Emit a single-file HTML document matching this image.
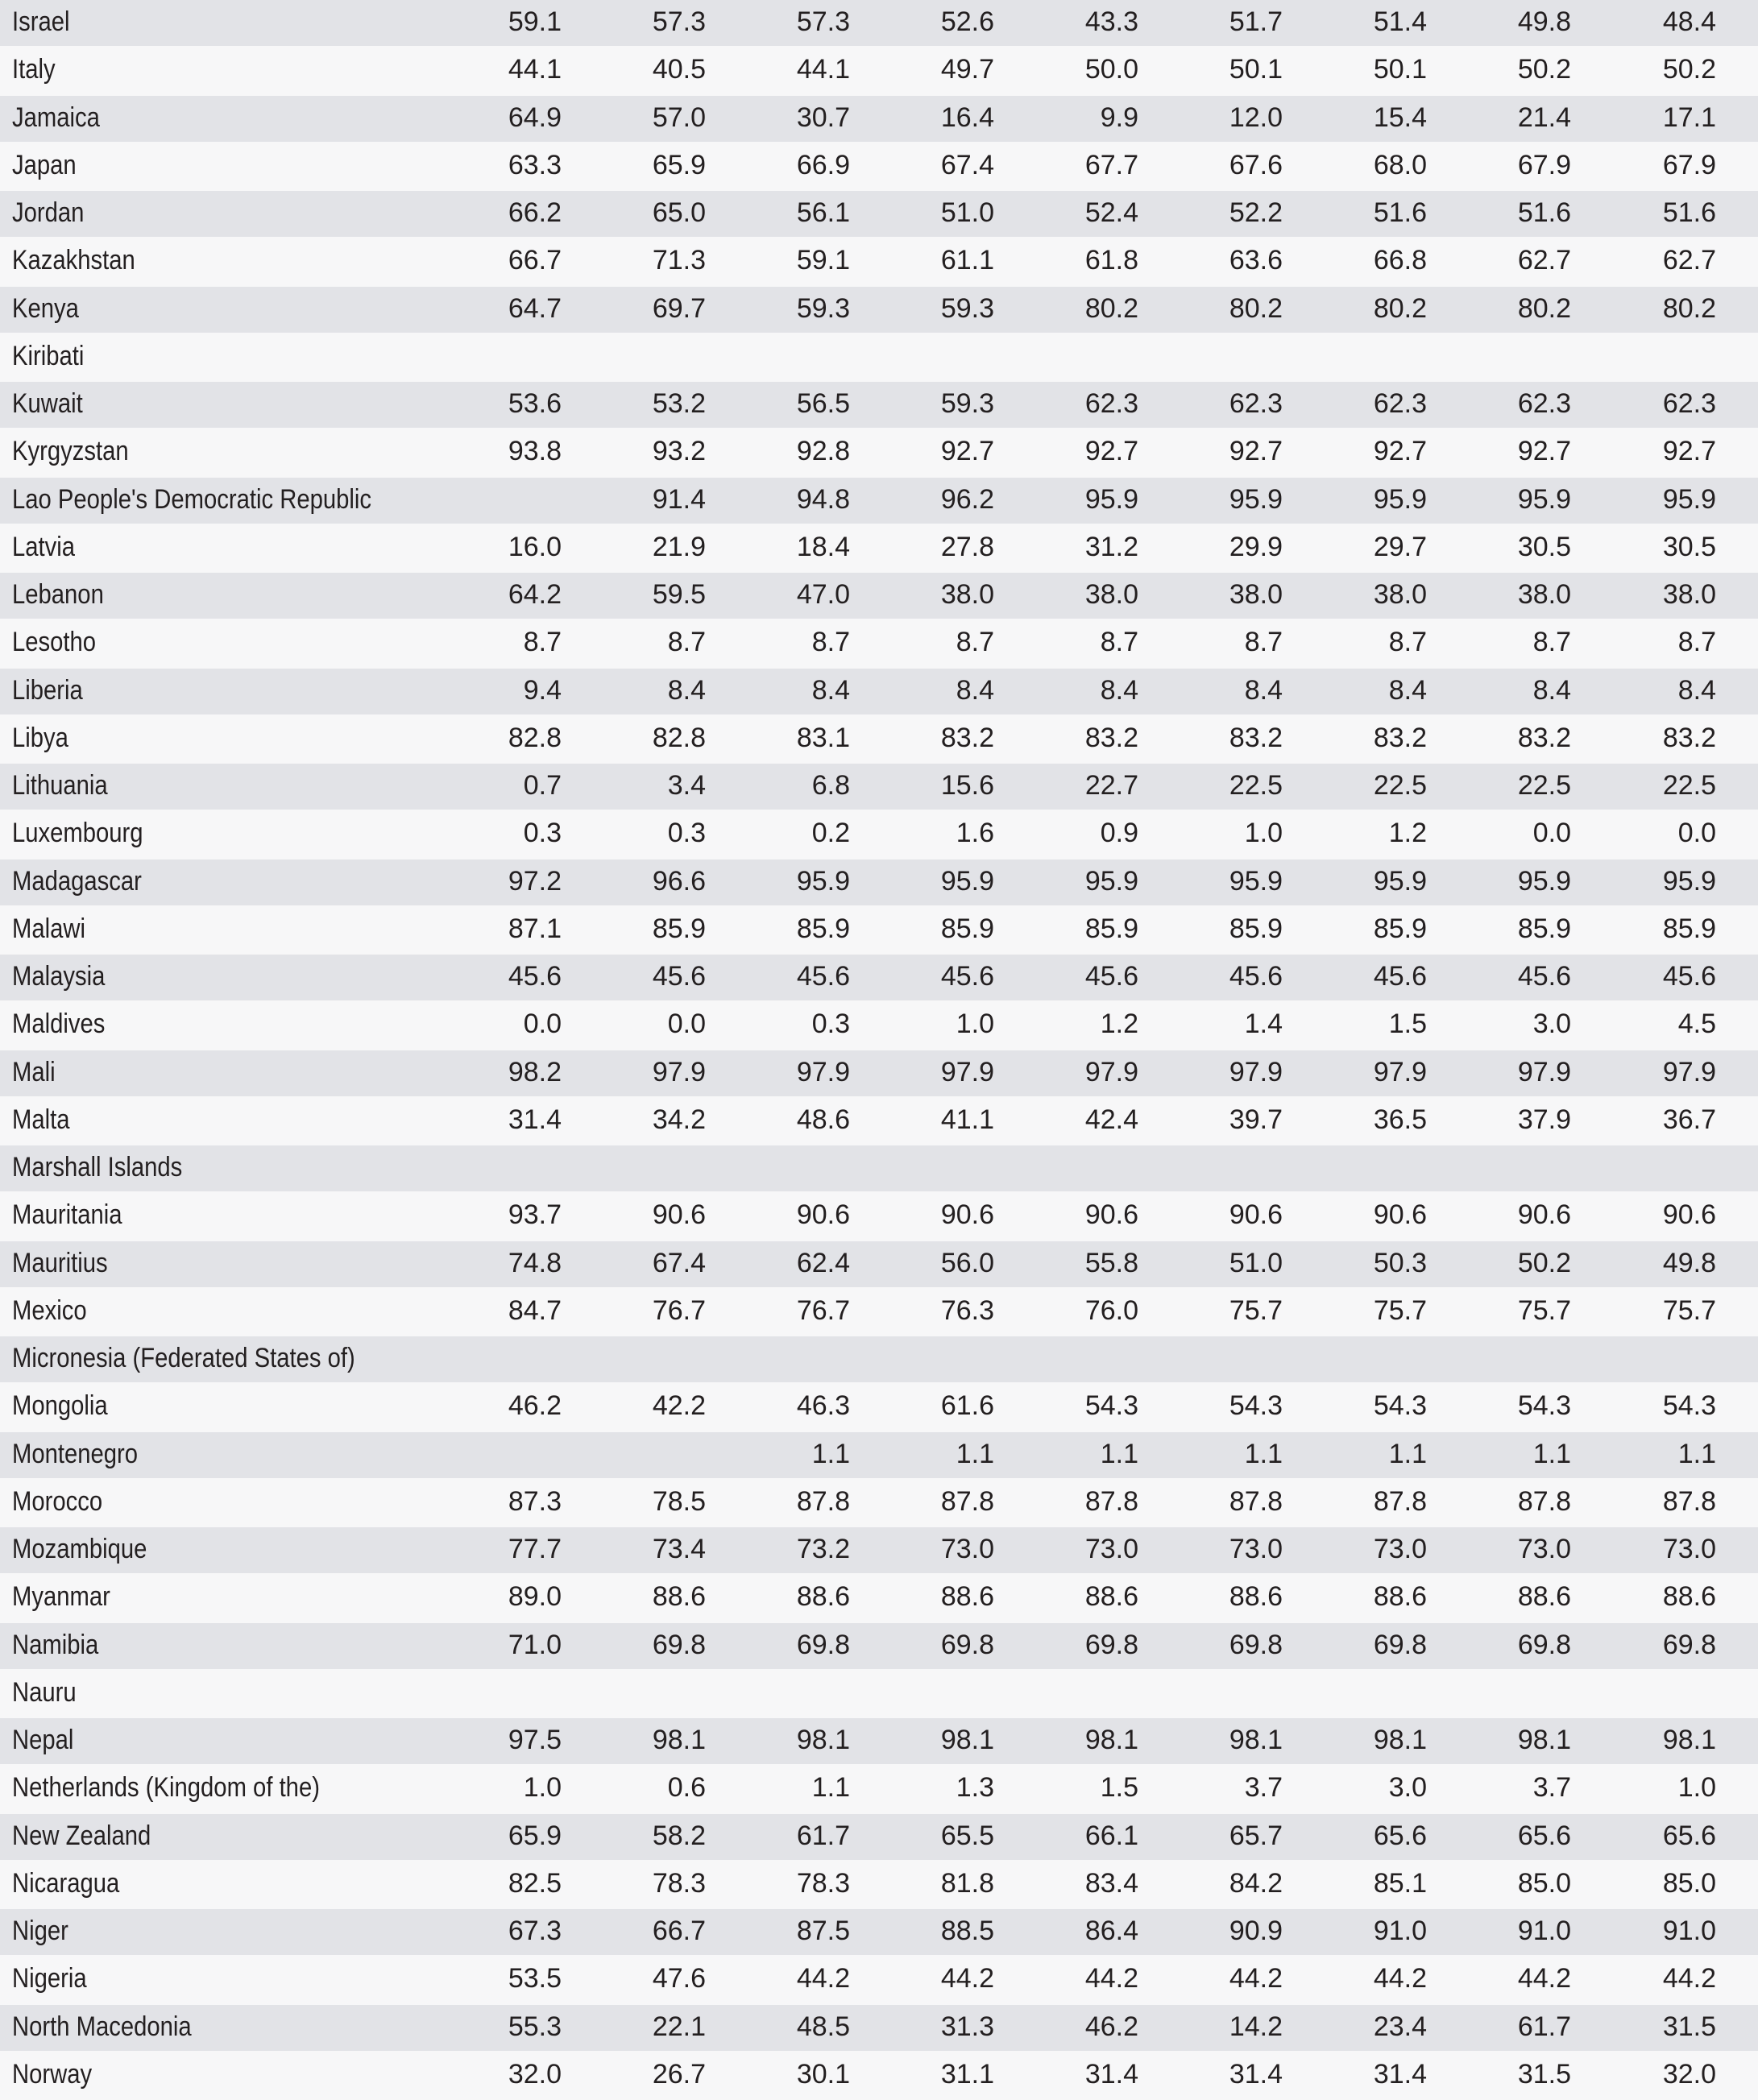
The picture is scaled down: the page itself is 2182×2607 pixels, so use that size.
<!DOCTYPE html>
<html><head><meta charset="utf-8"><style>
body{margin:0;width:2182px;height:2607px;background:#f7f7f8;overflow:hidden;font-family:"Liberation Sans",sans-serif;color:#231f20}
.r{position:absolute;left:0;width:2182px;height:57px}
.g{background:#e2e3e7}
.t{position:absolute;top:-2px;line-height:59px;font-size:34px;white-space:nowrap}
.n{left:15px;transform:scaleX(0.86);transform-origin:left center}
.v{text-align:right;width:170px}
</style></head><body>
<div id="c"></div>
<script>
const d=`Israel|59.1|57.3|57.3|52.6|43.3|51.7|51.4|49.8|48.4
Italy|44.1|40.5|44.1|49.7|50.0|50.1|50.1|50.2|50.2
Jamaica|64.9|57.0|30.7|16.4|9.9|12.0|15.4|21.4|17.1
Japan|63.3|65.9|66.9|67.4|67.7|67.6|68.0|67.9|67.9
Jordan|66.2|65.0|56.1|51.0|52.4|52.2|51.6|51.6|51.6
Kazakhstan|66.7|71.3|59.1|61.1|61.8|63.6|66.8|62.7|62.7
Kenya|64.7|69.7|59.3|59.3|80.2|80.2|80.2|80.2|80.2
Kiribati||||||||||
Kuwait|53.6|53.2|56.5|59.3|62.3|62.3|62.3|62.3|62.3
Kyrgyzstan|93.8|93.2|92.8|92.7|92.7|92.7|92.7|92.7|92.7
Lao People's Democratic Republic||91.4|94.8|96.2|95.9|95.9|95.9|95.9|95.9
Latvia|16.0|21.9|18.4|27.8|31.2|29.9|29.7|30.5|30.5
Lebanon|64.2|59.5|47.0|38.0|38.0|38.0|38.0|38.0|38.0
Lesotho|8.7|8.7|8.7|8.7|8.7|8.7|8.7|8.7|8.7
Liberia|9.4|8.4|8.4|8.4|8.4|8.4|8.4|8.4|8.4
Libya|82.8|82.8|83.1|83.2|83.2|83.2|83.2|83.2|83.2
Lithuania|0.7|3.4|6.8|15.6|22.7|22.5|22.5|22.5|22.5
Luxembourg|0.3|0.3|0.2|1.6|0.9|1.0|1.2|0.0|0.0
Madagascar|97.2|96.6|95.9|95.9|95.9|95.9|95.9|95.9|95.9
Malawi|87.1|85.9|85.9|85.9|85.9|85.9|85.9|85.9|85.9
Malaysia|45.6|45.6|45.6|45.6|45.6|45.6|45.6|45.6|45.6
Maldives|0.0|0.0|0.3|1.0|1.2|1.4|1.5|3.0|4.5
Mali|98.2|97.9|97.9|97.9|97.9|97.9|97.9|97.9|97.9
Malta|31.4|34.2|48.6|41.1|42.4|39.7|36.5|37.9|36.7
Marshall Islands||||||||||
Mauritania|93.7|90.6|90.6|90.6|90.6|90.6|90.6|90.6|90.6
Mauritius|74.8|67.4|62.4|56.0|55.8|51.0|50.3|50.2|49.8
Mexico|84.7|76.7|76.7|76.3|76.0|75.7|75.7|75.7|75.7
Micronesia (Federated States of)||||||||||
Mongolia|46.2|42.2|46.3|61.6|54.3|54.3|54.3|54.3|54.3
Montenegro|||1.1|1.1|1.1|1.1|1.1|1.1|1.1
Morocco|87.3|78.5|87.8|87.8|87.8|87.8|87.8|87.8|87.8
Mozambique|77.7|73.4|73.2|73.0|73.0|73.0|73.0|73.0|73.0
Myanmar|89.0|88.6|88.6|88.6|88.6|88.6|88.6|88.6|88.6
Namibia|71.0|69.8|69.8|69.8|69.8|69.8|69.8|69.8|69.8
Nauru||||||||||
Nepal|97.5|98.1|98.1|98.1|98.1|98.1|98.1|98.1|98.1
Netherlands (Kingdom of the)|1.0|0.6|1.1|1.3|1.5|3.7|3.0|3.7|1.0
New Zealand|65.9|58.2|61.7|65.5|66.1|65.7|65.6|65.6|65.6
Nicaragua|82.5|78.3|78.3|81.8|83.4|84.2|85.1|85.0|85.0
Niger|67.3|66.7|87.5|88.5|86.4|90.9|91.0|91.0|91.0
Nigeria|53.5|47.6|44.2|44.2|44.2|44.2|44.2|44.2|44.2
North Macedonia|55.3|22.1|48.5|31.3|46.2|14.2|23.4|61.7|31.5
Norway|32.0|26.7|30.1|31.1|31.4|31.4|31.4|31.5|32.0`.split("\n");
const ends=[697,876,1055,1234,1413,1592,1771,1950,2130];
let h="";
d.forEach((l,i)=>{const p=l.split("|");const y=(i*59.25).toFixed(2);
h+=`<div class="r${i%2==0?' g':''}" style="top:${y}px"><span class="t n">${p[0]}</span>`;
for(let k=0;k<9;k++){if(p[k+1])h+=`<span class="t v" style="left:${ends[k]-170}px">${p[k+1]}</span>`;}
h+="</div>";});
document.getElementById("c").innerHTML=h;
</script>
</body></html>
